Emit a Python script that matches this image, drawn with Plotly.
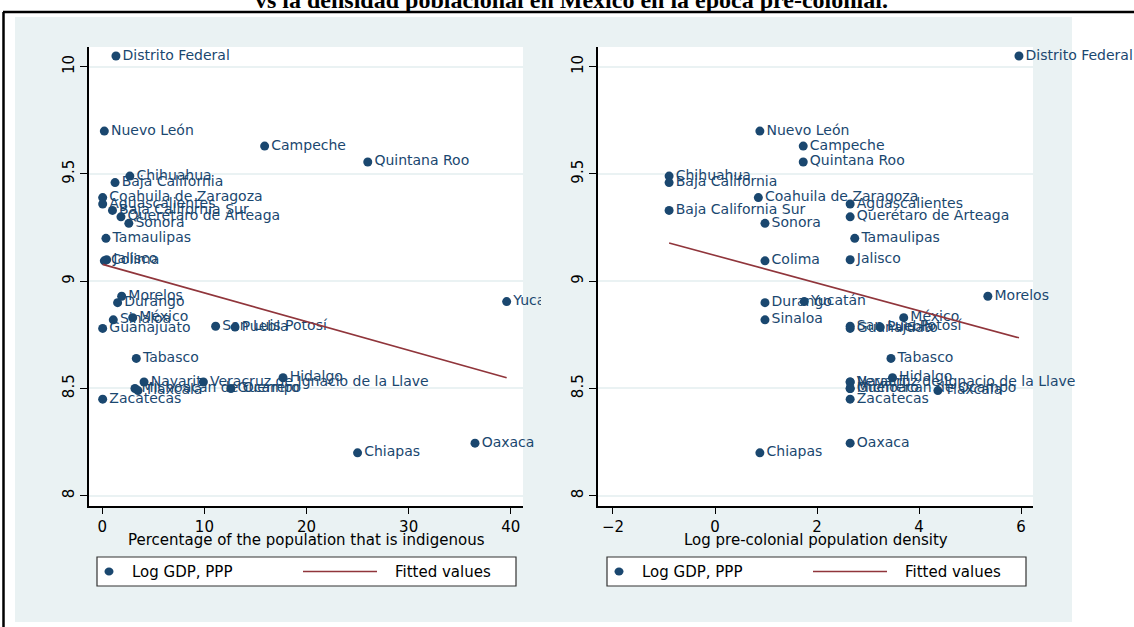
import numpy as np
import plotly.graph_objects as go

# ---------------- data ----------------
states = [
    "Distrito Federal", "Nuevo León", "Campeche", "Quintana Roo", "Chihuahua",
    "Baja California", "Coahuila de Zaragoza", "Aguascalientes", "Baja California Sur",
    "Querétaro de Arteaga", "Sonora", "Tamaulipas", "Jalisco", "Colima", "Morelos",
    "Durango", "Yucatán", "México", "Sinaloa", "San Luis Potosí", "Puebla",
    "Guanajuato", "Tabasco", "Hidalgo", "Nayarit", "Veracruz de Ignacio de la Llave",
    "Michoacán de Ocampo", "Guerrero", "Tlaxcala", "Zacatecas", "Oaxaca", "Chiapas",
]
pct_indigenous = [
    1.34, 0.2, 15.9, 26.0, 2.7,
    1.25, 0.04, 0.04, 1.0,
    1.83, 2.6, 0.36, 0.43, 0.2, 1.9,
    1.5, 39.6, 2.98, 1.08, 11.1, 13.0,
    0.04, 3.33, 17.7, 4.09, 9.9,
    3.2, 12.6, 3.5, 0.04, 36.5, 25.0,
]
log_density = [
    5.96, 0.88, 1.73, 1.73, -0.90,
    -0.90, 0.85, 2.65, -0.90,
    2.65, 0.98, 2.74, 2.65, 0.98, 5.35,
    0.98, 1.75, 3.70, 0.98, 2.65, 3.24,
    2.65, 3.45, 3.48, 2.65, 2.65,
    2.65, 2.65, 4.37, 2.65, 2.65, 0.88,
]
log_gdp = [
    10.05, 9.70, 9.63, 9.556, 9.49,
    9.46, 9.39, 9.36, 9.33,
    9.30, 9.27, 9.20, 9.10, 9.095, 8.93,
    8.90, 8.905, 8.83, 8.82, 8.79, 8.786,
    8.78, 8.64, 8.55, 8.53, 8.53,
    8.50, 8.50, 8.49, 8.45, 8.245, 8.20,
]
y_ticks = [8, 8.5, 9, 9.5, 10]
y_tick_labels = ["8", "8.5", "9", "9.5", "10"]
x1_ticks = [0, 10, 20, 30, 40]
x2_ticks = [-2, 0, 2, 4, 6]
title_text = "vs la densidad poblacional en México en la época pre-colonial."
x1_title = "Percentage of the population that is indigenous"
x2_title = "Log pre-colonial population density"
legend_labels = ["Log GDP, PPP", "Fitted values"]

# ---------------- style ----------------
W, H = 1134, 627
NAVY = "#1a476f"
MAROON = "#90353b"
BG = "#eaf2f3"
FONT = "DejaVu Sans"


def px(x):
    return x / W


def py(y):
    return 1 - y / H


fig = go.Figure()

panels = [
    (pct_indigenous, "x", "y"),
    (log_density, "x2", "y2"),
]
for xs, xa, ya in panels:
    fig.add_trace(go.Scatter(
        x=xs, y=log_gdp, text=states, mode="markers+text",
        textposition="middle right",
        textfont=dict(family=FONT, size=14, color=NAVY),
        marker=dict(size=9, color=NAVY),
        cliponaxis=False, showlegend=False, xaxis=xa, yaxis=ya,
        name=legend_labels[0],
    ))
    xarr = np.array(xs)
    slope, icpt = np.polyfit(xarr, np.array(log_gdp), 1)
    xl = np.array([xarr.min(), xarr.max()])
    fig.add_trace(go.Scatter(
        x=xl, y=icpt + slope * xl, mode="lines",
        line=dict(color=MAROON, width=1.6),
        showlegend=False, xaxis=xa, yaxis=ya, name=legend_labels[1],
    ))

# plot area pixel boxes
L1 = (89, 523)
L2 = (598, 1033)
TOP, BOT = 47, 506

ydom = [py(BOT), py(TOP)]
common_x = dict(
    showline=True, linecolor="black", linewidth=1.5, ticks="outside", ticklen=6,
    tickcolor="black", tickwidth=1.2, showgrid=False, zeroline=False,
    tickfont=dict(family=FONT, size=15, color="black"),
)
common_y = dict(
    showline=True, linecolor="black", linewidth=1.5, ticks="outside", ticklen=7,
    tickcolor="black", tickwidth=1.2, showgrid=True, gridcolor=BG, gridwidth=1.5,
    zeroline=False, tickangle=-90, tickvals=y_ticks, ticktext=y_tick_labels,
    range=[7.952, 10.092], domain=ydom,
    tickfont=dict(family=FONT, size=15, color="black"),
)
fig.update_layout(
    width=W, height=H, margin=dict(l=0, r=0, t=0, b=0),
    paper_bgcolor="white", plot_bgcolor="white",
    xaxis=dict(domain=[px(L1[0]), px(L1[1])], range=[-1.3, 41.2], tickvals=x1_ticks,
               anchor="y", **common_x),
    yaxis=dict(anchor="x", **common_y),
    xaxis2=dict(domain=[px(L2[0]), px(L2[1])], range=[-2.294, 6.235], tickvals=x2_ticks,
                anchor="y2", **common_x),
    yaxis2=dict(anchor="x2", **common_y),
)

shapes = []
# outer light background
shapes.append(dict(type="rect", xref="paper", yref="paper", layer="below",
                   x0=px(15), x1=px(1072), y0=py(622), y1=py(17),
                   fillcolor=BG, line=dict(width=0)))
# white plot regions
for (a, b) in (L1, L2):
    shapes.append(dict(type="rect", xref="paper", yref="paper", layer="below",
                       x0=px(a), x1=px(b), y0=py(BOT), y1=py(TOP),
                       fillcolor="white", line=dict(width=0)))
# frame lines
shapes.append(dict(type="line", xref="paper", yref="paper", x0=px(3), x1=1, y0=py(12), y1=py(12),
                   line=dict(color="black", width=2.5)))
shapes.append(dict(type="line", xref="paper", yref="paper", x0=px(3.5), x1=px(3.5), y0=py(12), y1=0,
                   line=dict(color="black", width=2.5)))
# clip of left-panel labels at the subgraph border
shapes.append(dict(type="rect", xref="paper", yref="paper", layer="above",
                   x0=px(541), x1=px(576), y0=py(312), y1=py(290),
                   fillcolor=BG, line=dict(width=0)))

annotations = [dict(text="<b>" + title_text + "</b>", xref="paper", yref="paper",
                    x=px(571), y=1.0, xanchor="center", yanchor="middle", showarrow=False,
                    font=dict(family="Liberation Serif", size=24, color="black"))]

# axis titles
for (a, b), t in ((L1, x1_title), (L2, x2_title)):
    annotations.append(dict(text=t, xref="paper", yref="paper",
                            x=px((a + b) / 2), y=py(540), xanchor="center", yanchor="middle",
                            showarrow=False, font=dict(family=FONT, size=15, color="black")))

# manual legends
for x0 in (97, 607):
    y0, y1 = 557, 586
    yc = (y0 + y1) / 2
    shapes.append(dict(type="rect", xref="paper", yref="paper",
                       x0=px(x0), x1=px(x0 + 419), y0=py(y1), y1=py(y0),
                       fillcolor="white", line=dict(color="#333333", width=1.2)))
    shapes.append(dict(type="circle", xref="paper", yref="paper",
                       xsizemode="pixel", ysizemode="pixel",
                       xanchor=px(x0 + 12), yanchor=py(yc),
                       x0=-4.5, x1=4.5, y0=-4, y1=4,
                       fillcolor=NAVY, line=dict(width=0)))
    shapes.append(dict(type="line", xref="paper", yref="paper",
                       x0=px(x0 + 206), x1=px(x0 + 280), y0=py(yc), y1=py(yc),
                       line=dict(color=MAROON, width=1.5)))
    annotations.append(dict(text=legend_labels[0], xref="paper", yref="paper",
                            x=px(x0 + 33), y=py(yc), xanchor="left", yanchor="middle",
                            showarrow=False, font=dict(family=FONT, size=15, color="black")))
    annotations.append(dict(text=legend_labels[1], xref="paper", yref="paper",
                            x=px(x0 + 296), y=py(yc), xanchor="left", yanchor="middle",
                            showarrow=False, font=dict(family=FONT, size=15, color="black")))

fig.update_layout(shapes=shapes, annotations=annotations)
fig.write_html("out.html", config={"displayModeBar": False},
               post_script="document.body.style.margin='0px';")
